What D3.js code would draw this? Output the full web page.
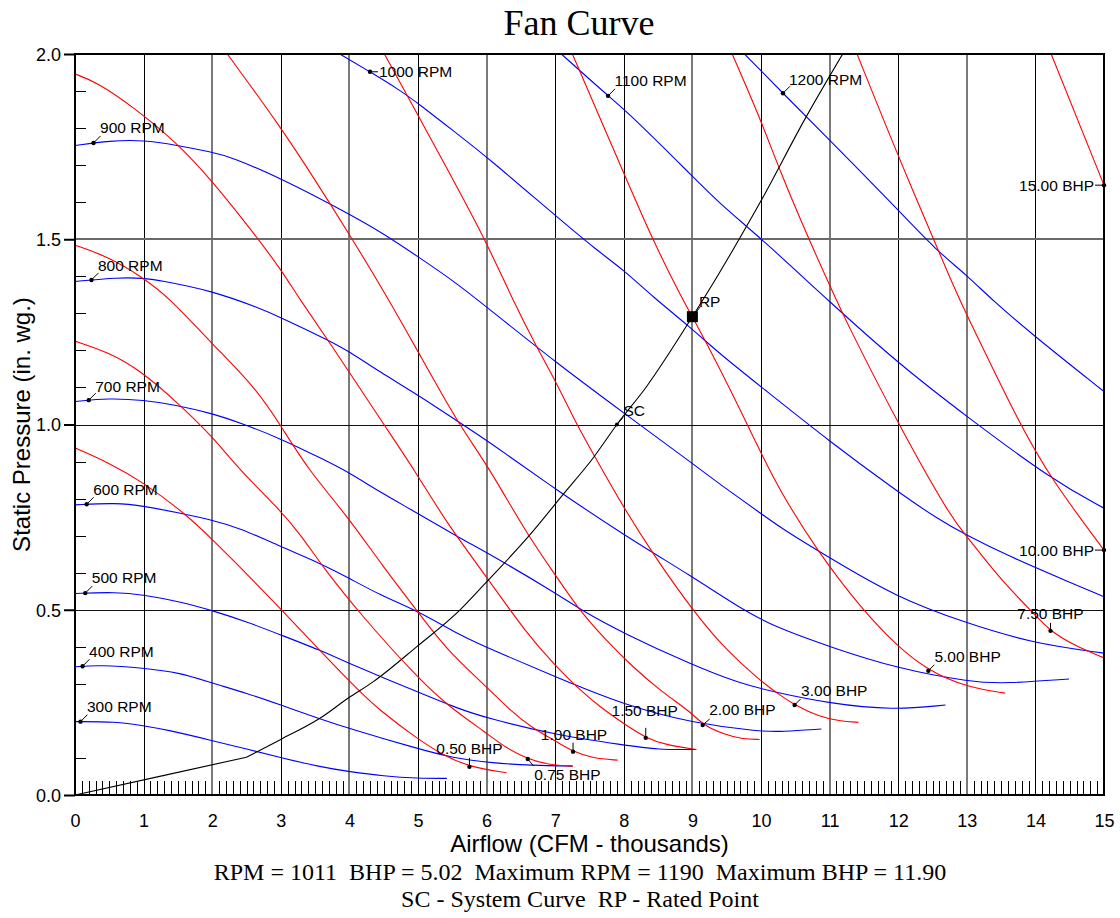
<!DOCTYPE html>
<html>
<head>
<meta charset="utf-8">
<title>Fan Curve</title>
<script src="https://cdn.jsdelivr.net/npm/d3@7"></script>
<style>
  body { margin: 0; background: #fff; }
  svg { display: block; }
</style>
</head>
<body>
<div id="main"></div>
<script>
// ---- data (airflow in thousands CFM, pressure in in. wg.) ----
var xTicks = [0, 1, 2, 3, 4, 5, 6, 7, 8, 9, 10, 11, 12, 13, 14, 15];
var yTicks = [0, 0.5, 1.0, 1.5, 2.0];

var rpmNames = ["300 RPM", "400 RPM", "500 RPM", "600 RPM", "700 RPM", "800 RPM", "900 RPM", "1000 RPM", "1100 RPM", "1200 RPM"];
var rpm300 = [[0,0.198],[0.6,0.198],[1.0,0.187],[1.34,0.176],[2.0,0.147],[2.5,0.124],[3.0,0.101],[3.57,0.076],[4.0,0.063],[4.5,0.051],[5.0,0.045],[5.42,0.045]];
var rpm400 = [[0,0.346],[0.36,0.351],[1.0,0.343],[1.53,0.330],[2.0,0.302],[2.5,0.275],[3.0,0.243],[3.57,0.205],[4.0,0.179],[4.98,0.126],[5.5,0.100],[6.09,0.086],[6.67,0.080],[7.25,0.078]];
var rpm500 = [[0,0.544],[0.6,0.548],[1.0,0.540],[1.53,0.522],[2.0,0.498],[2.5,0.468],[3.0,0.432],[3.57,0.391],[4.0,0.355],[4.98,0.279],[5.6,0.232],[6.0,0.208],[7.0,0.162],[8.0,0.135],[8.5,0.122],[9.05,0.123]];
var rpm600 = [[0,0.783],[0.6,0.789],[1.0,0.780],[1.53,0.761],[2.0,0.742],[2.4,0.721],[3.0,0.670],[3.57,0.626],[4.0,0.585],[4.44,0.540],[5.0,0.497],[5.6,0.432],[6.09,0.391],[7.0,0.319],[8.0,0.243],[9.0,0.194],[10.0,0.171],[10.3,0.171],[10.88,0.178]];
var rpm700 = [[0,1.062],[0.49,1.071],[1.0,1.066],[1.46,1.053],[2.0,1.030],[2.43,1.003],[3.0,0.962],[3.64,0.904],[4.0,0.870],[4.44,0.818],[5.0,0.760],[5.61,0.693],[6.0,0.655],[7.02,0.544],[7.35,0.502],[8.0,0.436],[9.0,0.351],[9.68,0.302],[10.17,0.279],[11.0,0.247],[11.92,0.229],[12.69,0.243]];
var rpm800 = [[0,1.386],[0.63,1.397],[1.0,1.395],[1.21,1.390],[2.0,1.361],[2.69,1.314],[3.0,1.289],[3.69,1.228],[4.0,1.197],[4.44,1.142],[5.0,1.080],[5.58,1.008],[6.0,0.958],[7.02,0.823],[8.0,0.702],[9.0,0.589],[9.7,0.504],[10.17,0.456],[11.0,0.400],[11.97,0.342],[13.08,0.304],[13.57,0.301],[14.49,0.313]];
var rpm900 = [[0,1.753],[0.51,1.766],[1.0,1.768],[1.48,1.754],[2.0,1.735],[2.26,1.723],[3.0,1.665],[4.0,1.568],[4.49,1.516],[5.0,1.453],[5.56,1.382],[6.0,1.317],[7.02,1.166],[8.0,1.031],[9.0,0.895],[9.39,0.840],[10.0,0.760],[10.27,0.723],[11.0,0.640],[11.97,0.534],[12.99,0.464],[13.95,0.410],[15.0,0.383]];
var rpm1000 = [[3.86,2.0],[4.3,1.952],[4.73,1.903],[5.0,1.867],[5.56,1.786],[6.0,1.723],[7.02,1.561],[7.6,1.471],[8.0,1.417],[8.42,1.345],[8.96,1.264],[9.39,1.192],[10.0,1.102],[11.0,0.954],[11.99,0.819],[12.6,0.742],[12.99,0.702],[13.57,0.648],[14.54,0.571],[15.0,0.535]];
var rpm1100 = [[7.09,2.0],[7.77,1.887],[8.0,1.853],[8.96,1.678],[9.39,1.597],[10.0,1.503],[11.0,1.331],[12.0,1.165],[13.0,1.021],[14.25,0.850],[15.0,0.774]];
var rpm1200 = [[9.76,2.0],[10.32,1.894],[11.0,1.768],[12.0,1.579],[12.55,1.471],[13.0,1.403],[13.37,1.336],[13.96,1.242],[15.0,1.089]];
var rpmLabelX = [0.08, 0.11, 0.15, 0.17, 0.2, 0.24, 0.27, 4.3, 7.77, 10.32];

var bhpNames = ["0.50 BHP", "0.75 BHP", "1.00 BHP", "1.50 BHP", "2.00 BHP", "3.00 BHP", "5.00 BHP", "7.50 BHP", "10.00 BHP", "15.00 BHP"];
var bhp050 = [[0,0.937],[0.47,0.899],[0.99,0.845],[1.63,0.756],[2.0,0.690],[2.4,0.616],[2.59,0.580],[2.99,0.504],[3.61,0.382],[4.15,0.279],[4.44,0.229],[4.98,0.153],[5.36,0.108],[5.75,0.076],[6.29,0.060]];
var bhp075 = [[0,1.225],[0.47,1.196],[0.95,1.147],[1.53,1.053],[2.0,0.968],[2.4,0.877],[2.99,0.769],[3.3,0.700],[3.61,0.616],[4.15,0.490],[4.98,0.319],[5.42,0.243],[6.0,0.167],[6.29,0.126],[6.6,0.097],[6.92,0.081],[7.26,0.078]];
var bhp100 = [[0,1.484],[0.48,1.453],[0.97,1.399],[1.36,1.345],[1.99,1.219],[2.62,1.102],[2.99,1.000],[3.4,0.877],[3.98,0.751],[4.49,0.616],[4.98,0.499],[5.42,0.391],[6.0,0.292],[6.34,0.229],[6.67,0.180],[7.02,0.144],[7.26,0.117],[7.55,0.099],[7.91,0.094]];
var bhp150 = [[0,1.946],[0.32,1.924],[0.85,1.857],[1.49,1.760],[2.01,1.655],[2.57,1.525],[3.01,1.417],[3.28,1.336],[3.69,1.228],[4.49,1.003],[4.95,0.877],[5.42,0.733],[6.0,0.589],[6.58,0.436],[7.02,0.346],[7.31,0.292],[7.65,0.238],[7.99,0.194],[8.33,0.153],[8.62,0.135],[9.06,0.123]];
var bhp200 = [[2.22,2.0],[2.99,1.805],[3.5,1.66],[3.96,1.525],[4.47,1.37],[4.95,1.214],[5.58,1.003],[6.0,0.895],[6.58,0.706],[7.02,0.589],[7.35,0.499],[7.74,0.418],[8.13,0.346],[8.52,0.283],[9.0,0.221],[9.15,0.189],[9.49,0.162],[9.73,0.151],[9.98,0.150]];
var bhp300 = [[4.51,2.0],[4.98,1.841],[5.94,1.517],[6.38,1.336],[6.73,1.209],[7.02,1.112],[7.28,1.012],[7.55,0.922],[7.99,0.778],[8.42,0.652],[9.0,0.499],[9.49,0.391],[9.98,0.310],[10.27,0.270],[10.49,0.243],[10.85,0.211],[11.14,0.200],[11.42,0.196]];
var bhp500 = [[7.25,2.0],[7.98,1.687],[8.42,1.498],[8.86,1.336],[9.0,1.291],[9.39,1.155],[9.79,1.004],[9.98,0.931],[10.27,0.823],[10.81,0.661],[11.48,0.499],[11.97,0.405],[12.42,0.337],[13.03,0.289],[13.56,0.275]];
var bhp750 = [[9.58,2.0],[9.98,1.830],[10.27,1.687],[10.7,1.498],[11.1,1.336],[11.21,1.290],[11.99,1.004],[12.79,0.742],[12.99,0.702],[13.43,0.594],[14.05,0.475],[14.22,0.443],[14.55,0.405],[15.0,0.370]];
var bhp1000 = [[11.4,2.0],[12.02,1.714],[12.89,1.336],[12.99,1.301],[13.76,1.004],[14.24,0.850],[15.0,0.661]];
var bhp1500 = [[14.23,2.0],[15.0,1.646]];
var bhpLabelX = [5.75, 6.6, 7.26, 8.32, 9.15, 10.49, 12.44, 14.22, 15.0, 15.0];

var systemCurve = [[0,0],[1.25,0.051],[2.5,0.102],[3.0,0.150],[3.57,0.207],[3.98,0.261],[4.35,0.306],[4.98,0.400],[5.61,0.499],[6.0,0.575],[6.63,0.702],[7.11,0.810],[7.55,0.909],[7.9,1.0],[8.33,1.102],[9.0,1.291],[9.39,1.408],[9.59,1.471],[9.98,1.597],[10.66,1.831],[11.19,2.0]];
var scPoint = [7.9, 1.0];
var ratedPoint = [9.0, 1.291];

var footerLines = [
  "RPM = 1011  BHP = 5.02  Maximum RPM = 1190  Maximum BHP = 11.90",
  "SC - System Curve  RP - Rated Point"
];

var rpmCurves = [rpm300, rpm400, rpm500, rpm600, rpm700, rpm800, rpm900, rpm1000, rpm1100, rpm1200];
var bhpCurves = [bhp050, bhp075, bhp100, bhp150, bhp200, bhp300, bhp500, bhp750, bhp1000, bhp1500];

// ---- layout ----
var width = 1120, height = 918;
var plotL = 75, plotR = 1104, plotT = 54, plotB = 795;
var sans = "'Liberation Sans', Arial, sans-serif";
var serif = "'Liberation Serif', 'Times New Roman', serif";

var svg = d3.select("#main").append("svg")
  .attr("width", width).attr("height", height);

var x = d3.scaleLinear().domain([0, 15]).range([plotL, plotR]);
var y = d3.scaleLinear().domain([0, 2]).range([plotB, plotT]);

function crisp(v) { return Math.round(v) + 0.5; }

// grid lines (some render grey/2px in the original)
var greyCols = [2, 4, 6, 9, 11, 13];
var grid = svg.append("g");
xTicks.filter(function (d) { return d > 0 && d < 15; }).forEach(function (d) {
  var grey = greyCols.indexOf(d) >= 0;
  var px = grey ? Math.round(x(d)) : crisp(x(d));
  grid.append("line")
    .attr("x1", px).attr("x2", px).attr("y1", plotT).attr("y2", plotB)
    .attr("stroke", grey ? "#7a7a7a" : "#000")
    .attr("stroke-width", grey ? 2 : 1);
});
yTicks.filter(function (d) { return d > 0 && d < 2; }).forEach(function (d) {
  var grey = d === 1.5;
  var py = grey ? Math.round(y(d)) : crisp(y(d));
  grid.append("line")
    .attr("x1", plotL).attr("x2", plotR).attr("y1", py).attr("y2", py)
    .attr("stroke", grey ? "#6a6a6a" : "#111")
    .attr("stroke-width", grey ? 2 : 1);
});

// minor ticks
var minor = svg.append("g").attr("stroke", "#000").attr("stroke-width", 1);
d3.range(1, 150).filter(function (i) { return i % 10 !== 0; }).forEach(function (i) {
  var px = crisp(x(i / 10));
  minor.append("line").attr("x1", px).attr("x2", px).attr("y1", plotB).attr("y2", plotB - 14);
});
d3.range(1, 20).filter(function (i) { return i % 5 !== 0; }).forEach(function (i) {
  var py = crisp(y(i / 10));
  minor.append("line").attr("x1", plotL).attr("x2", plotL + 11).attr("y1", py).attr("y2", py);
});

// curves
svg.append("clipPath").attr("id", "plotClip").append("rect")
  .attr("x", plotL).attr("y", plotT).attr("width", plotR - plotL).attr("height", plotB - plotT);
var plot = svg.append("g").attr("clip-path", "url(#plotClip)");

var line = d3.line()
  .x(function (d) { return x(d[0]); })
  .y(function (d) { return y(d[1]); })
  .curve(d3.curveMonotoneX);
var smooth = d3.line()
  .x(function (d) { return x(d[0]); })
  .y(function (d) { return y(d[1]); })
  .curve(d3.curveBasis);
var straight = d3.line()
  .x(function (d) { return x(d[0]); })
  .y(function (d) { return y(d[1]); });

plot.selectAll(".rpm").data(rpmCurves).enter().append("path")
  .attr("class", "rpm")
  .attr("d", smooth)
  .attr("fill", "none").attr("stroke", "#0000ff").attr("stroke-width", 1.1);

plot.selectAll(".bhp").data(bhpCurves).enter().append("path")
  .attr("class", "bhp")
  .attr("d", smooth)
  .attr("fill", "none").attr("stroke", "#ff0000").attr("stroke-width", 1.1);

// system curve: straight run up to the kink at 2.5, then a smooth rise
plot.append("path").datum(systemCurve.slice(0, 3))
  .attr("d", straight)
  .attr("fill", "none").attr("stroke", "#000").attr("stroke-width", 1.1);
plot.append("path").datum(systemCurve.slice(2))
  .attr("d", line)
  .attr("fill", "none").attr("stroke", "#000").attr("stroke-width", 1.1);

// frame
svg.append("rect")
  .attr("x", plotL).attr("y", plotT).attr("width", plotR - plotL).attr("height", plotB - plotT)
  .attr("fill", "none").attr("stroke", "#000").attr("stroke-width", 2);

// axes
var yAxis = svg.append("g")
  .attr("transform", "translate(" + plotL + ",0)")
  .call(d3.axisLeft(y).tickValues(yTicks).tickFormat(d3.format(".1f")).tickSize(11).tickPadding(3));
yAxis.select(".domain").remove();
yAxis.selectAll(".tick line").attr("stroke-width", 2);
yAxis.selectAll("text").attr("font-family", sans).attr("font-size", 18).attr("fill", "#000").attr("dy", "0.36em");

var xAxis = svg.append("g")
  .attr("transform", "translate(0," + plotB + ")")
  .call(d3.axisBottom(x).tickValues(xTicks).tickFormat(d3.format("d")).tickSize(0).tickPadding(19));
xAxis.select(".domain").remove();
xAxis.selectAll("text").attr("font-family", sans).attr("font-size", 18).attr("fill", "#000");

// labels on curves
function valueAt(curve, X) {
  if (X <= curve[0][0]) return curve[0][1];
  for (var i = 1; i < curve.length; i++) {
    if (X <= curve[i][0]) {
      var a = curve[i - 1], b = curve[i];
      return a[1] + (b[1] - a[1]) * (X - a[0]) / (b[0] - a[0]);
    }
  }
  return curve[curve.length - 1][1];
}

var labels = svg.append("g").attr("font-family", sans).attr("font-size", 15.5).attr("fill", "#000");

function tag(px, py, lead, tx, ty, anchor, text) {
  labels.append("line")
    .attr("x1", px).attr("y1", py).attr("x2", px + lead[0]).attr("y2", py + lead[1])
    .attr("stroke", "#000").attr("stroke-width", 1);
  labels.append("text")
    .attr("x", px + tx).attr("y", py + ty)
    .attr("text-anchor", anchor).text(text);
}

// leader offsets / text offsets in px: [leadDx, leadDy, textDx, textDy, anchor]
var rpmLayout = [
  [7, -7, 6.5, -9.5, "start"], [7, -7, 6.5, -9.5, "start"], [7, -7, 6.5, -10, "start"],
  [7, -7, 6.5, -9, "start"], [7, -7, 6.5, -8.5, "start"], [7, -7, 6.5, -8.5, "start"],
  [7, -7, 6.5, -9.5, "start"], [8, 0, 9, 5.5, "start"], [7, -7, 6.5, -9.5, "start"],
  [7, -7, 6, -8.5, "start"]
];
rpmCurves.forEach(function (c, i) {
  var X = rpmLabelX[i], px = x(X), py = y(valueAt(c, X));
  var l = rpmLayout[i];
  tag(px, py, [l[0], l[1]], l[2], l[3], l[4], rpmNames[i]);
  labels.append("circle").attr("cx", px).attr("cy", py).attr("r", 2.2);
});

var bhpLayout = [
  [0, -9, 0, -13, "middle"], [6, 7, 6.5, 20.5, "start"], [0, -9, 1, -12, "middle"],
  [0, -10, -1, -22, "middle"], [7, -6, 6.5, -9.5, "start"], [6, -6, 6.5, -9, "start"],
  [6, -6, 6, -8.5, "start"], [0, -8, 0, -11.5, "middle"], [-9, 0, -10, 5.5, "end"],
  [-9, 0, -10, 5.5, "end"]
];
bhpCurves.forEach(function (c, i) {
  var X = bhpLabelX[i], px = x(X), py = y(valueAt(c, X));
  var l = bhpLayout[i];
  tag(px, py, [l[0], l[1]], l[2], l[3], l[4], bhpNames[i]);
  labels.append("circle").attr("cx", px).attr("cy", py).attr("r", 2.2);
});

// system curve point and rated point
var scx = x(scPoint[0]), scy = y(scPoint[1]);
tag(scx, scy, [6, -7], 6.5, -9, "start", "SC");
labels.append("circle").attr("cx", scx).attr("cy", scy).attr("r", 2);

var rpx = x(ratedPoint[0]), rpy = y(ratedPoint[1]);
tag(rpx, rpy, [8, -10], 6.5, -9.5, "start", "RP");
labels.append("rect").attr("x", rpx - 5.5).attr("y", rpy - 5.5).attr("width", 11).attr("height", 11);

// titles
svg.append("text")
  .attr("x", 579).attr("y", 35)
  .attr("text-anchor", "middle")
  .attr("font-family", serif).attr("font-size", 36)
  .text("Fan Curve");

svg.append("text")
  .attr("x", (plotL + plotR) / 2).attr("y", 852)
  .attr("text-anchor", "middle")
  .attr("font-family", sans).attr("font-size", 24)
  .text("Airflow (CFM - thousands)");

svg.append("text")
  .attr("transform", "translate(30," + (plotT + plotB) / 2 + ") rotate(-90)")
  .attr("text-anchor", "middle")
  .attr("font-family", sans).attr("font-size", 24)
  .text("Static Pressure (in. wg.)");

footerLines.forEach(function (t, i) {
  svg.append("text")
    .attr("x", 580).attr("y", 880 + i * 27)
    .attr("text-anchor", "middle")
    .attr("font-family", serif).attr("font-size", 24)
    .style("white-space", "pre")
    .text(t);
});
</script>
</body>
</html>
